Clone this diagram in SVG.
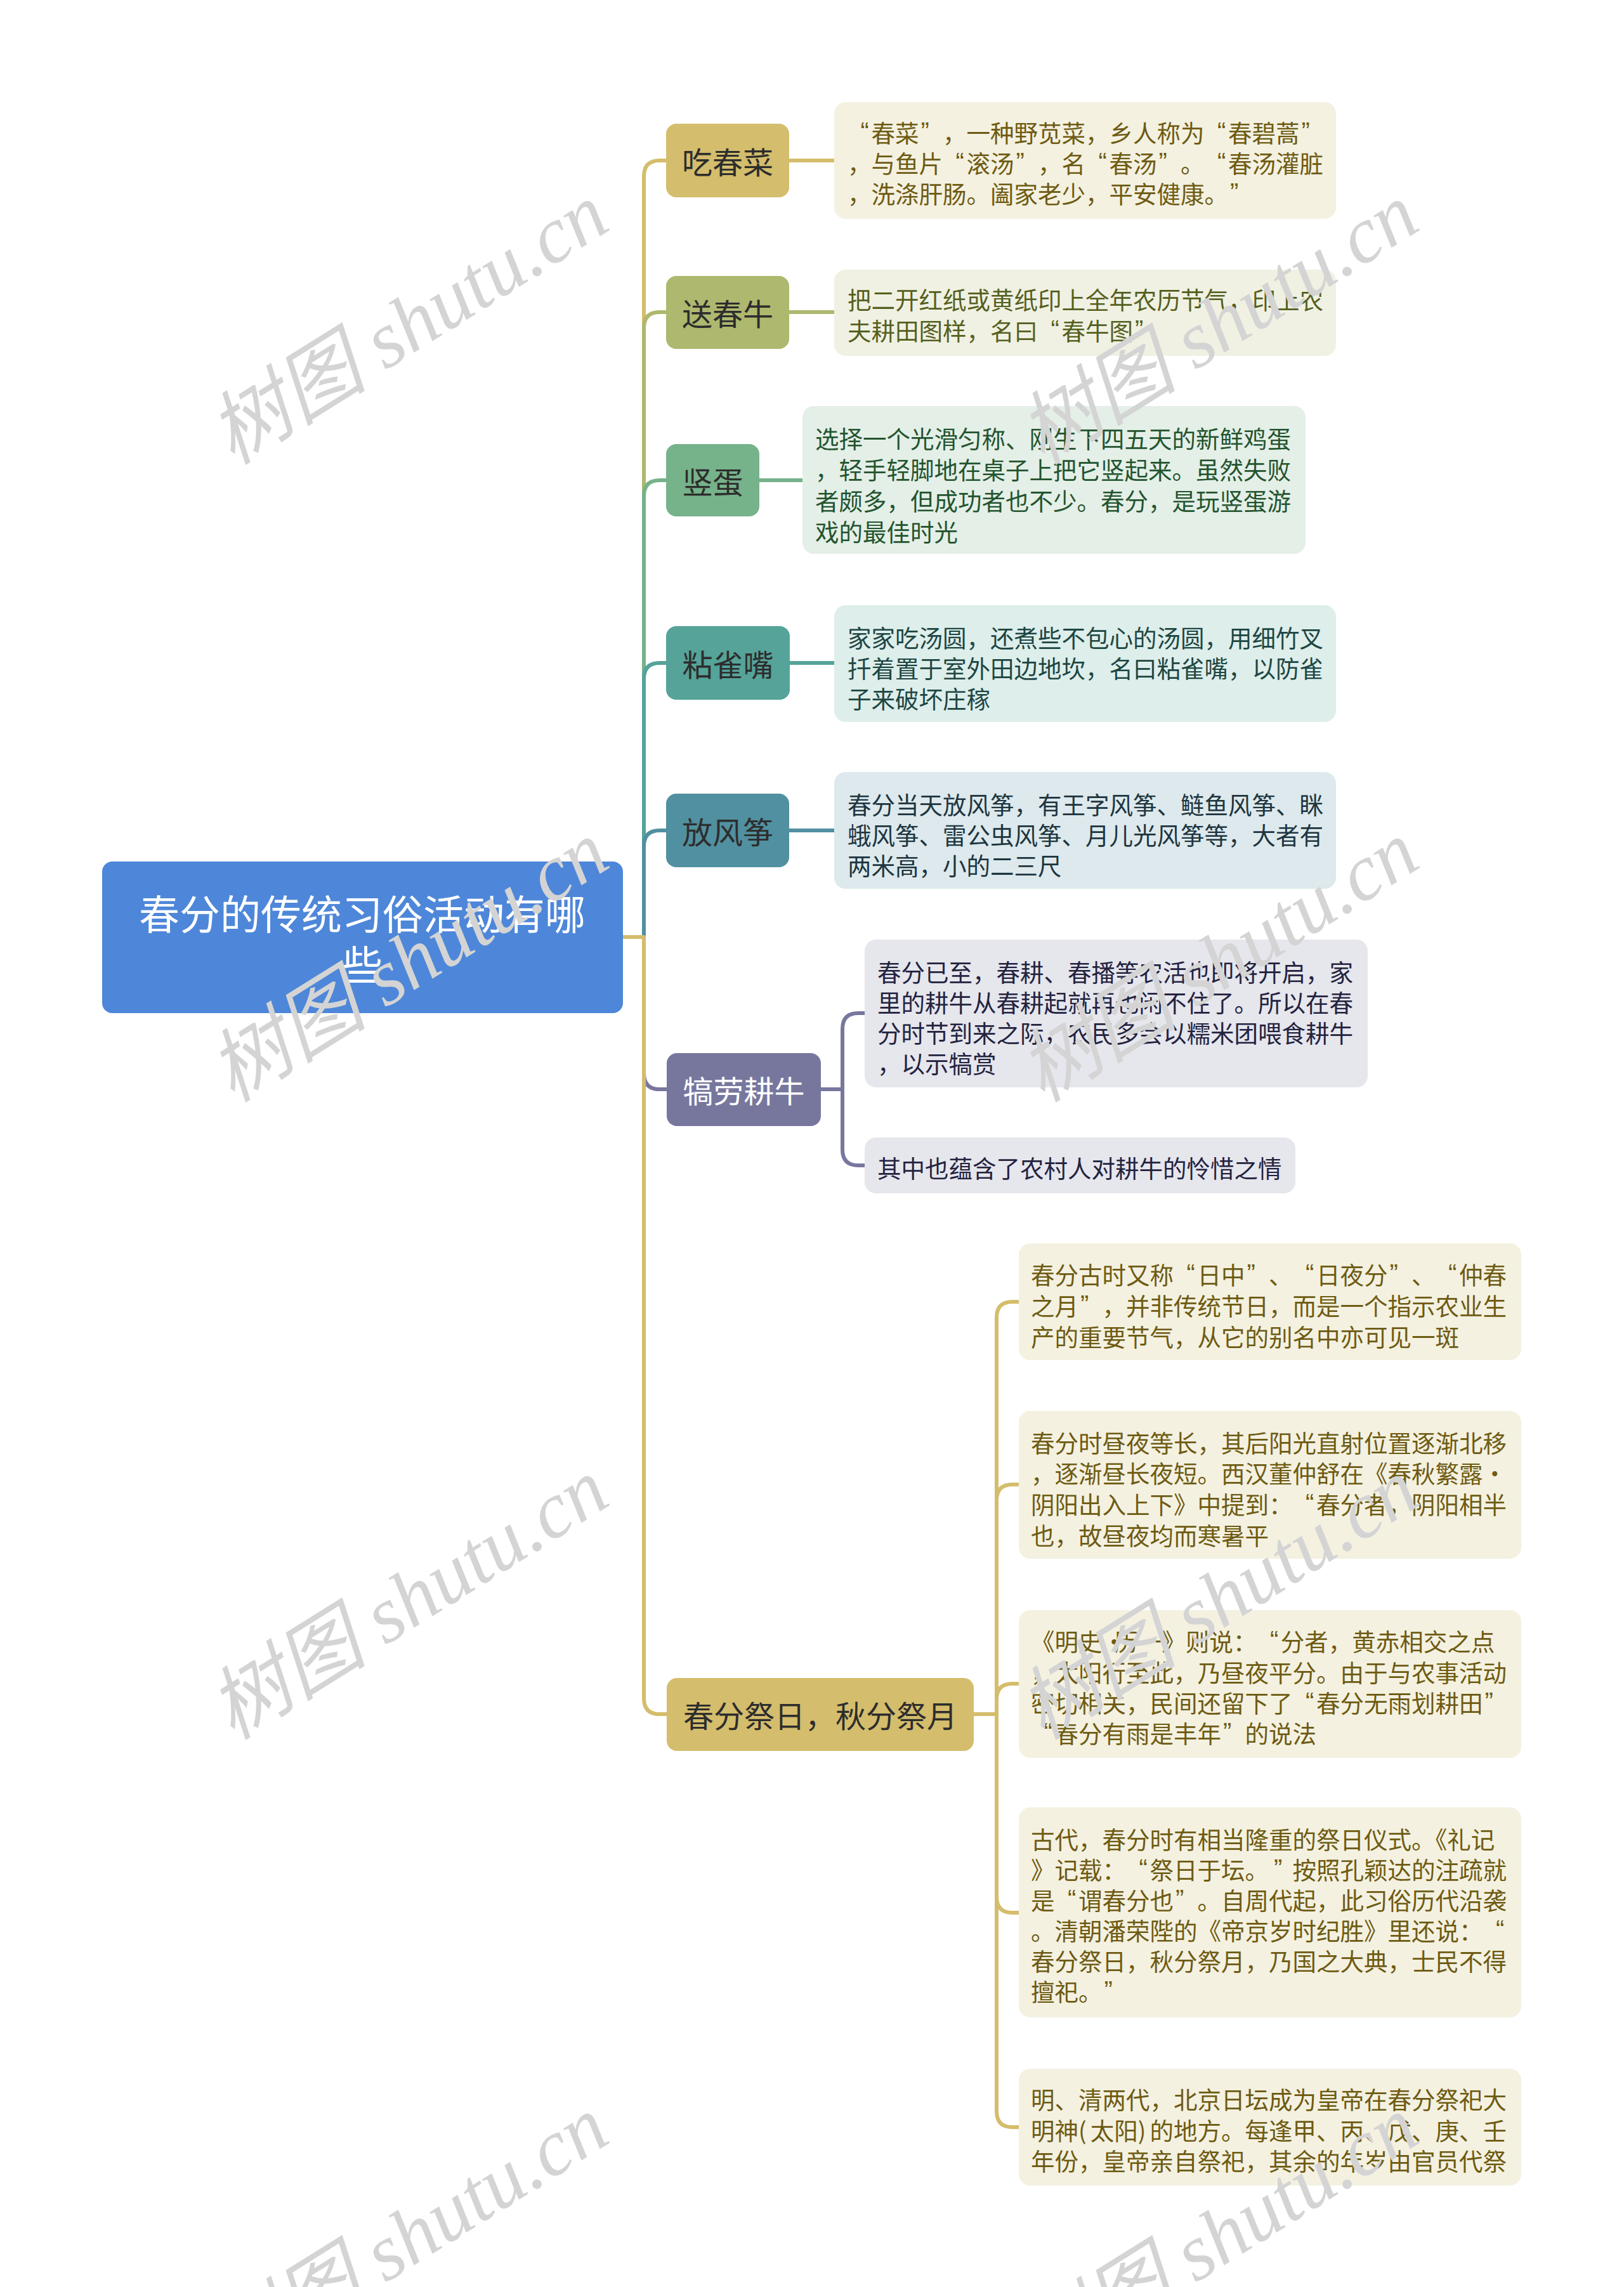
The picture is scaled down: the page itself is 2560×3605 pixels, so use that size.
<svg xmlns="http://www.w3.org/2000/svg" width="2560" height="3605" viewBox="0 0 2560 3605">
<style>
.bg{fill:#ffffff}
.wm{font-family:"Liberation Serif","Noto Sans CJK SC",serif;font-style:italic;font-size:126px;fill:#d4d4d4;text-anchor:middle;dominant-baseline:central}
.conn{fill:none;stroke-width:6;stroke-linejoin:round;stroke-linecap:butt}
.t{font-family:"Noto Sans CJK SC","Noto Sans",sans-serif;dominant-baseline:central}
.root{font-size:64px;fill:#ffffff;text-anchor:middle}
.br{font-size:48px;fill:#2d2d2d;text-anchor:middle}
.brw{font-size:48px;fill:#ffffff;text-anchor:middle}
.lf{font-size:37.5px}
.q{font-family:"Liberation Sans",sans-serif;font-size:40px}
.c1{fill:#D4BD6C}.s1{stroke:#D4BD6C}.l1{fill:#F4F1E1}.x1{fill:#6E5B12}
.c2{fill:#AEB86E}.s2{stroke:#AEB86E}.l2{fill:#F0F1E3}.x2{fill:#55601E}
.c3{fill:#76B28A}.s3{stroke:#76B28A}.l3{fill:#E4EFE7}.x3{fill:#23542F}
.c4{fill:#55A399}.s4{stroke:#55A399}.l4{fill:#DDEEEB}.x4{fill:#1E4642}
.c5{fill:#5190A0}.s5{stroke:#5190A0}.l5{fill:#DDE9EC}.x5{fill:#1D3540}
.c6{fill:#77779E}.s6{stroke:#77779E}.l6{fill:#E6E6ED}.x6{fill:#23233F}
</style>
<rect class="bg" x="0" y="0" width="2560" height="3605"/>

<g id="connectors">
  <path class="conn s1" d="M982 1477 H1015 V278 Q1015 253 1040 253 H1050"/>
  <path class="conn s2" d="M982 1477 H1015 V517 Q1015 492 1040 492 H1050"/>
  <path class="conn s3" d="M982 1477 H1015 V782 Q1015 757 1040 757 H1050"/>
  <path class="conn s4" d="M982 1477 H1015 V1070 Q1015 1045 1040 1045 H1050"/>
  <path class="conn s5" d="M982 1477 H1015 V1334 Q1015 1309 1040 1309 H1050"/>
  <path class="conn s6" d="M982 1477 H1015 V1692 Q1015 1717 1040 1717 H1051"/>
  <path class="conn s1" d="M982 1477 H1015 V2677 Q1015 2702 1040 2702 H1051"/>

  <path class="conn s1" d="M1244 253 H1315"/>
  <path class="conn s2" d="M1244 492 H1315"/>
  <path class="conn s3" d="M1197 757 H1265"/>
  <path class="conn s4" d="M1245 1045 H1315"/>
  <path class="conn s5" d="M1244 1309 H1315"/>

  <path class="conn s6" d="M1294 1717 H1328 V1622 Q1328 1597 1353 1597 H1363"/>
  <path class="conn s6" d="M1294 1717 H1328 V1812 Q1328 1837 1353 1837 H1363"/>

  <path class="conn s1" d="M1535 2702 H1571 V2077 Q1571 2052 1596 2052 H1606"/>
  <path class="conn s1" d="M1535 2702 H1571 V2365 Q1571 2340 1596 2340 H1606"/>
  <path class="conn s1" d="M1535 2702 H1571 V2679 Q1571 2654 1596 2654 H1606"/>
  <path class="conn s1" d="M1535 2702 H1571 V2990 Q1571 3015 1596 3015 H1606"/>
  <path class="conn s1" d="M1535 2702 H1571 V3328 Q1571 3353 1596 3353 H1606"/>
</g>

<g id="root">
  <rect x="161" y="1358" width="821" height="239" rx="16" fill="#4E87D9"/>
  <text class="t root" x="571" y="1437">春分的传统习俗活动有哪</text>
  <text class="t root" x="571" y="1517">些</text>
</g>

<g id="n1">
  <rect class="c1" x="1050" y="195" width="194" height="116" rx="16"/>
  <text class="t br" x="1147" y="253">吃春菜</text>
</g>
<g id="n1a">
  <rect class="l1" x="1315" y="161" width="791" height="184" rx="18"/>
  <text class="t lf x1" x="1336" y="207"><tspan class="q" x="1356.6">“</tspan><tspan x="1373.5">春菜</tspan><tspan class="q" x="1451.5">”</tspan><tspan x="1486">，一种野苋菜，乡人称为</tspan><tspan class="q" x="1919.1">“</tspan><tspan x="1936">春碧蒿</tspan><tspan class="q" x="2051.5">”</tspan></text>
  <text class="t lf x1" x="1336" y="255">，与鱼片<tspan class="q" x="1506.6">“</tspan><tspan x="1523.5">滚汤</tspan><tspan class="q" x="1601.5">”</tspan><tspan x="1636">，名</tspan><tspan class="q" x="1731.6">“</tspan><tspan x="1748.5">春汤</tspan><tspan class="q" x="1826.5">”</tspan><tspan x="1861">。</tspan><tspan class="q" x="1919.1">“</tspan><tspan x="1936">春汤灌脏</tspan></text>
  <text class="t lf x1" x="1336" y="303">，洗涤肝肠。阖家老少，平安健康。<tspan class="q" x="1939">”</tspan></text>
</g>

<g id="n2">
  <rect class="c2" x="1050" y="435" width="194" height="115" rx="16"/>
  <text class="t br" x="1147" y="492">送春牛</text>
</g>
<g id="n2a">
  <rect class="l2" x="1315" y="425" width="791" height="136" rx="18"/>
  <text class="t lf x2" x="1336" y="470">把二开红纸或黄纸印上全年农历节气，印上农</text>
  <text class="t lf x2" x="1336" y="519">夫耕田图样，名曰<tspan class="q" x="1656.6">“</tspan><tspan x="1673.5">春牛图</tspan><tspan class="q" x="1789">”</tspan></text>
</g>

<g id="n3">
  <rect class="c3" x="1050" y="700" width="147" height="114" rx="16"/>
  <text class="t br" x="1123.5" y="757">竖蛋</text>
</g>
<g id="n3a">
  <rect class="l3" x="1265" y="640" width="793" height="233" rx="18"/>
  <text class="t lf x3" x="1285" y="689">选择一个光滑匀称、刚生下四五天的新鲜鸡蛋</text>
  <text class="t lf x3" x="1285" y="738">，轻手轻脚地在桌子上把它竖起来。虽然失败</text>
  <text class="t lf x3" x="1285" y="787">者颇多，但成功者也不少。春分，是玩竖蛋游</text>
  <text class="t lf x3" x="1285" y="836">戏的最佳时光</text>
</g>

<g id="n4">
  <rect class="c4" x="1050" y="987" width="195" height="116" rx="16"/>
  <text class="t br" x="1147.5" y="1045">粘雀嘴</text>
</g>
<g id="n4a">
  <rect class="l4" x="1315" y="954" width="791" height="184" rx="18"/>
  <text class="t lf x4" x="1336" y="1003">家家吃汤圆，还煮些不包心的汤圆，用细竹叉</text>
  <text class="t lf x4" x="1336" y="1051">扦着置于室外田边地坎，名曰粘雀嘴，以防雀</text>
  <text class="t lf x4" x="1336" y="1099">子来破坏庄稼</text>
</g>

<g id="n5">
  <rect class="c5" x="1050" y="1251" width="194" height="116" rx="16"/>
  <text class="t br" x="1147" y="1309">放风筝</text>
</g>
<g id="n5a">
  <rect class="l5" x="1315" y="1217" width="791" height="184" rx="18"/>
  <text class="t lf x5" x="1336" y="1266">春分当天放风筝，有王字风筝、鲢鱼风筝、眯</text>
  <text class="t lf x5" x="1336" y="1314">蛾风筝、雷公虫风筝、月儿光风筝等，大者有</text>
  <text class="t lf x5" x="1336" y="1362">两米高，小的二三尺</text>
</g>

<g id="n6">
  <rect class="c6" x="1051" y="1660" width="243" height="115" rx="16"/>
  <text class="t brw" x="1172.5" y="1717">犒劳耕牛</text>
</g>
<g id="n6a">
  <rect class="l6" x="1363" y="1481" width="793" height="233" rx="18"/>
  <text class="t lf x6" x="1383" y="1530">春分已至，春耕、春播等农活也即将开启，家</text>
  <text class="t lf x6" x="1383" y="1578">里的耕牛从春耕起就再也闲不住了。所以在春</text>
  <text class="t lf x6" x="1383" y="1626">分时节到来之际，农民多会以糯米团喂食耕牛</text>
  <text class="t lf x6" x="1383" y="1674">，以示犒赏</text>
</g>
<g id="n6b">
  <rect class="l6" x="1363" y="1793" width="679" height="88" rx="18"/>
  <text class="t lf x6" x="1383" y="1839">其中也蕴含了农村人对耕牛的怜惜之情</text>
</g>

<g id="n7">
  <rect class="c1" x="1051" y="2645" width="484" height="115" rx="16"/>
  <text class="t br" x="1293" y="2702">春分祭日，秋分祭月</text>
</g>
<g id="n7a">
  <rect class="l1" x="1606" y="1960" width="792" height="184" rx="18"/>
  <text class="t lf x1" x="1625" y="2007">春分古时又称<tspan class="q" x="1870.6">“</tspan><tspan x="1887.5">日中</tspan><tspan class="q" x="1965.5">”</tspan><tspan x="2000">、</tspan><tspan class="q" x="2058.1">“</tspan><tspan x="2075">日夜分</tspan><tspan class="q" x="2190.5">”</tspan><tspan x="2225">、</tspan><tspan class="q" x="2283.1">“</tspan><tspan x="2300">仲春</tspan></text>
  <text class="t lf x1" x="1625" y="2056">之月<tspan class="q" x="1703">”</tspan><tspan x="1737.5">，并非传统节日，而是一个指示农业生</tspan></text>
  <text class="t lf x1" x="1625" y="2105">产的重要节气，从它的别名中亦可见一斑</text>
</g>
<g id="n7b">
  <rect class="l1" x="1606" y="2224" width="792" height="233" rx="18"/>
  <text class="t lf x1" x="1625" y="2272">春分时昼夜等长，其后阳光直射位置逐渐北移</text>
  <text class="t lf x1" x="1625" y="2320">，逐渐昼长夜短。西汉董仲舒在《春秋繁露·</text>
  <text class="t lf x1" x="1625" y="2369">阴阳出入上下》中提到：<tspan class="q" x="2058.1">“</tspan><tspan x="2075">春分者，阴阳相半</tspan></text>
  <text class="t lf x1" x="1625" y="2418">也，故昼夜均而寒暑平</text>
</g>
<g id="n7c">
  <rect class="l1" x="1606" y="2538" width="792" height="233" rx="18"/>
  <text class="t lf x1" x="1625" y="2585">《明史·<tspan x="1756.25">历一》则说：</tspan><tspan class="q" x="2001.9">“</tspan><tspan x="2018.75">分者，黄赤相交之点</tspan></text>
  <text class="t lf x1" x="1625" y="2634">，太阳行至此，乃昼夜平分。由于与农事活动</text>
  <text class="t lf x1" x="1625" y="2682">密切相关，民间还留下了<tspan class="q" x="2058.1">“</tspan><tspan x="2075">春分无雨划耕田</tspan><tspan class="q" x="2340.5">”</tspan></text>
  <text class="t lf x1" x="1625" y="2730"><tspan class="q" x="1645.6">“</tspan><tspan x="1662.5">春分有雨是丰年</tspan><tspan class="q" x="1928">”</tspan><tspan x="1962.5">的说法</tspan></text>
</g>
<g id="n7d">
  <rect class="l1" x="1606" y="2849" width="792" height="331" rx="18"/>
  <text class="t lf x1" x="1625" y="2897">古代，春分时有相当隆重的祭日仪式。《礼记</text>
  <text class="t lf x1" x="1625" y="2945">》记载：<tspan class="q" x="1795.6">“</tspan><tspan x="1812.5">祭日于坛。</tspan><tspan class="q" x="2008">”</tspan><tspan x="2037.5">按照孔颖达的注疏就</tspan></text>
  <text class="t lf x1" x="1625" y="2993">是<tspan class="q" x="1683.1">“</tspan><tspan x="1700">谓春分也</tspan><tspan class="q" x="1853">”</tspan><tspan x="1887.5">。自周代起，此习俗历代沿袭</tspan></text>
  <text class="t lf x1" x="1625" y="3041">。清朝潘荣陛的《帝京岁时纪胜》里还说：<tspan class="q" x="2358.1">“</tspan></text>
  <text class="t lf x1" x="1625" y="3089">春分祭日，秋分祭月，乃国之大典，士民不得</text>
  <text class="t lf x1" x="1625" y="3137">擅祀。<tspan class="q" x="1740.5">”</tspan></text>
</g>
<g id="n7e">
  <rect class="l1" x="1606" y="3261" width="792" height="184" rx="18"/>
  <text class="t lf x1" x="1625" y="3307">明、清两代，北京日坛成为皇帝在春分祭祀大</text>
  <text class="t lf x1" x="1625" y="3356">明神(<tspan x="1718.75">太阳)</tspan><tspan x="1812.5">的地方。每逢甲、丙、戊、庚、壬</tspan></text>
  <text class="t lf x1" x="1625" y="3404">年份，皇帝亲自祭祀，其余的年岁由官员代祭</text>
</g>

<g id="watermark">
  <text class="wm" x="644" y="511" transform="rotate(-32 644 511)">树图 shutu.cn</text>
  <text class="wm" x="1921" y="511" transform="rotate(-32 1921 511)">树图 shutu.cn</text>
  <text class="wm" x="644" y="1516" transform="rotate(-32 644 1516)">树图 shutu.cn</text>
  <text class="wm" x="1921" y="1516" transform="rotate(-32 1921 1516)">树图 shutu.cn</text>
  <text class="wm" x="644" y="2521" transform="rotate(-32 644 2521)">树图 shutu.cn</text>
  <text class="wm" x="1921" y="2521" transform="rotate(-32 1921 2521)">树图 shutu.cn</text>
  <text class="wm" x="644" y="3526" transform="rotate(-32 644 3526)">树图 shutu.cn</text>
  <text class="wm" x="1921" y="3526" transform="rotate(-32 1921 3526)">树图 shutu.cn</text>
</g>
</svg>
